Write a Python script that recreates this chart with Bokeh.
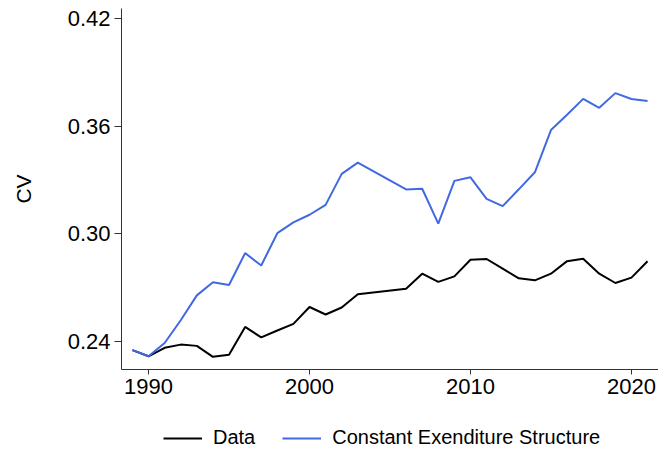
from bokeh.plotting import figure
from bokeh.layouts import column
from bokeh.models import FixedTicker, PrintfTickFormatter, Legend, LegendItem, Range1d
from bokeh.embed import file_html
from bokeh.resources import INLINE

years = [1989, 1990, 1991, 1992, 1993, 1994, 1995, 1996, 1997, 1998, 1999, 2000,
         2001, 2002, 2003, 2006, 2007, 2008, 2009, 2010, 2011, 2012, 2013, 2014,
         2015, 2016, 2017, 2018, 2019, 2020, 2021]

data_cv = [0.2350, 0.2316, 0.2363, 0.2381, 0.2374, 0.2313, 0.2324, 0.2480, 0.2421,
           0.2460, 0.2497, 0.2591, 0.2549, 0.2588, 0.2662, 0.2693, 0.2777, 0.2731,
           0.2762, 0.2855, 0.2859, 0.2805, 0.2751, 0.2740, 0.2777, 0.2847, 0.2860,
           0.2777, 0.2725, 0.2755, 0.2846]

const_cv = [0.2350, 0.2316, 0.2390, 0.2517, 0.2656, 0.2729, 0.2714, 0.2892, 0.2823,
            0.3003, 0.3063, 0.3106, 0.3161, 0.3334, 0.3397, 0.3247, 0.3251, 0.3056,
            0.3295, 0.3315, 0.3195, 0.3154, 0.3248, 0.3343, 0.3579, 0.3664, 0.3753,
            0.3703, 0.3785, 0.3752, 0.3741]

x_ticks = [1990, 2000, 2010, 2020]
y_ticks = [0.24, 0.30, 0.36, 0.42]

series_labels = ["Data", "Constant Exenditure Structure"]
series_colors = ["black", "#4169E1"]

FONT = "Liberation Sans"

p = figure(width=658, height=405, output_backend="svg", toolbar_location=None,
           x_range=Range1d(1988.32, 2021.68), y_range=Range1d(0.22421, 0.42574),
           min_border_left=121, min_border_right=0, min_border_top=8,
           min_border_bottom=36)

p.outline_line_color = None
p.xgrid.visible = False
p.ygrid.visible = False
p.background_fill_color = "white"
p.border_fill_color = "white"

p.line(years, data_cv, line_color=series_colors[0], line_width=2)
p.line(years, const_cv, line_color=series_colors[1], line_width=2)

for ax in (p.xaxis[0], p.yaxis[0]):
    ax.axis_line_color = "#333333"
    ax.axis_line_width = 1
    ax.major_tick_line_color = "#333333"
    ax.major_tick_in = 0
    ax.minor_tick_line_color = None
    ax.major_label_text_font = FONT
    ax.major_label_text_font_size = "22px"
    ax.major_label_text_color = "black"

p.xaxis.ticker = FixedTicker(ticks=x_ticks)
p.xaxis.major_tick_out = 5
p.xaxis.major_label_standoff = 4

p.yaxis.ticker = FixedTicker(ticks=y_ticks)
p.yaxis.formatter = PrintfTickFormatter(format="%.2f")
p.yaxis.major_tick_out = 7
p.yaxis.major_label_standoff = 4
p.yaxis.axis_label = "CV"
p.yaxis.axis_label_text_font = FONT
p.yaxis.axis_label_text_font_size = "21px"
p.yaxis.axis_label_text_font_style = "normal"
p.yaxis.axis_label_text_color = "black"
p.yaxis.axis_label_standoff = 30

# legend strip below the chart
lg = figure(width=658, height=47, output_backend="svg", toolbar_location=None,
            x_range=Range1d(0, 1), y_range=Range1d(0, 1),
            x_axis_location=None, y_axis_location=None,
            min_border_left=0, min_border_right=0, min_border_top=0,
            min_border_bottom=0)
lg.outline_line_color = None
lg.xgrid.visible = False
lg.ygrid.visible = False
lg.border_fill_color = "white"

nan = float("nan")
k1 = lg.line([nan], [nan], line_color=series_colors[0], line_width=2)
k2 = lg.line([nan], [nan], line_color=series_colors[1], line_width=2)

legend = Legend(items=[LegendItem(label=series_labels[0], renderers=[k1]),
                       LegendItem(label=series_labels[1], renderers=[k2])],
                orientation="horizontal", location=(42, 3))
legend.glyph_width = 39
legend.glyph_height = 20
legend.label_standoff = 11
legend.spacing = 27
legend.padding = 0
legend.margin = 0
legend.border_line_alpha = 0
legend.background_fill_alpha = 0
legend.label_text_font = FONT
legend.label_text_font_size = "20px"
legend.label_text_color = "black"
lg.add_layout(legend, "center")

layout = column(p, lg, spacing=0)

open("out.html", "w").write(file_html(layout, INLINE))
